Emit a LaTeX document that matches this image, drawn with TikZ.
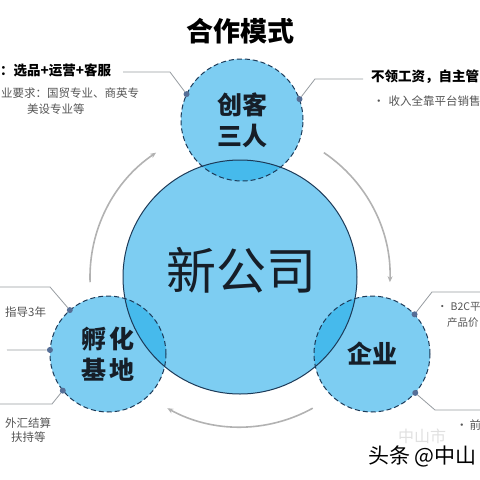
\documentclass[tikz,border=0pt]{standalone}
\usepackage{fontspec}
\setmainfont{Noto Sans CJK SC}
\usetikzlibrary{arrows.meta,positioning}
\definecolor{circfill}{RGB}{125,205,242}
\definecolor{overlapfill}{RGB}{70,186,236}
\definecolor{navyline}{RGB}{28,58,88}
\definecolor{dotblue}{RGB}{85,110,150}
\definecolor{leadgray}{RGB}{150,155,160}
\definecolor{arcgray}{RGB}{178,178,178}
\definecolor{textgray}{RGB}{85,85,85}
\definecolor{labeldark}{RGB}{22,30,40}

\begin{document}
\begin{tikzpicture}[x=1pt,y=1pt,
  hub/.style={circle, fill=circfill, minimum size=234pt, inner sep=0pt},
  party/.style={circle, fill=circfill, minimum size=118pt, inner sep=0pt, align=center, text=labeldark, font=\bfseries\fontsize{25}{31}\selectfont},
  rim/.style={draw=navyline, line width=1pt},
  dashrim/.style={draw=navyline, line width=1pt, dash pattern=on 5pt off 3pt},
  lead/.style={draw=leadgray, line width=0.8pt},
  pin/.style={circle, fill=dotblue, inner sep=0pt, minimum size=6pt},
  cyc/.style={-{Stealth[length=6pt,width=5pt]}, arcgray, line width=1.6pt},
  head/.style={font=\bfseries\fontsize{13.5}{17}\selectfont, inner sep=0pt, anchor=west},
  note/.style={font=\fontsize{11.5}{15}\selectfont, text=textgray, inner sep=0pt, anchor=west}
]
\useasboundingbox (0,0) rectangle (480,-480);
\clip (0,0) rectangle (480,-480);

\node[font=\bfseries\fontsize{27}{30}\selectfont] (title) at (240,-31) {合作模式};

% circles
\node[hub] (hub) at (240,-277) {};
\node[party, minimum size=122pt] (maker) at (242,-120) {创客\\三人};
\node[party, minimum size=116pt] (incub) at (108,-354) {孵\hspace{3pt}化\\基\hspace{3pt}地};
\node[party, minimum size=116pt] (firm) at (372,-354) {企业};

% overlaps
\begin{scope}
  \clip (hub.center) circle[radius=117];
  \fill[overlapfill] (maker.center) circle[radius=61];
  \fill[overlapfill] (incub.center) circle[radius=58];
  \fill[overlapfill] (firm.center) circle[radius=58];
\end{scope}
\draw[rim] (hub.center) circle[radius=117];
\draw[dashrim] (maker.center) circle[radius=61];
\draw[dashrim] (incub.center) circle[radius=58];
\draw[dashrim] (firm.center) circle[radius=58];

\node[font=\fontsize{50}{50}\selectfont, text=labeldark] (hubtext) at (241,-270) {新公司};

% cycle arrows
\draw[cyc] ([shift={(182:150)}]hub.center) arc[start angle=182, end angle=124, radius=150];
\draw[cyc] ([shift={(56:150)}]hub.center) arc[start angle=56, end angle=-2, radius=150];
\draw[cyc] ([shift={(-61:150)}]hub.center) arc[start angle=-61, end angle=-119, radius=150];

% leader lines
\coordinate (mkLbend) at (170,-72);
\coordinate (mkLend) at (123,-72);
\coordinate (mkRbend) at (315,-79);
\coordinate (mkRend) at (363,-79);
\coordinate (icAbend) at (50,-287);
\coordinate (icAend) at (-5,-287);
\coordinate (icBend) at (7,-350);
\coordinate (icCbend) at (52,-404);
\coordinate (icCend) at (-5,-404);
\coordinate (fmAbend) at (432,-292);
\coordinate (fmAend) at (485,-292);
\coordinate (fmBbend) at (435,-410);
\coordinate (fmBend) at (485,-410);

\node[pin] (mkL) at (maker.155) {};
\node[pin] (mkR) at (maker.20) {};
\node[pin] (icA) at (incub.131) {};
\node[pin] (icB) at (incub.176) {};
\node[pin] (icC) at (incub.219) {};
\node[pin] (fmA) at (firm.43) {};
\node[pin] (fmB) at (firm.318) {};

\draw[lead] (mkL) -- (mkLbend) -- (mkLend);
\draw[lead] (mkR) -- (mkRbend) -- (mkRend);
\draw[lead] (icA) -- (icAbend) -- (icAend);
\draw[lead] (icB) -- (icBend);
\draw[lead] (icC) -- (icCbend) -- (icCend);
\draw[lead] (fmA) -- (fmAbend) -- (fmAend);
\draw[lead] (fmB) -- (fmBbend) -- (fmBend);

% side texts
\node[head] (rolenote) at (0,-70) {：选品+运营+客服};
\node[note] (reqnote) at (1,-93) {业要求：国贸专业、商英专};
\node[note] (reqnote2) at (27,-109) {美设专业等};
\node[head] (paynote) at (371,-77) {不领工资，自主管};
\node[note] (incnote) at (373,-101) {•\hspace{4pt}收入全靠平台销售};
\node[note] (guidenote) at (5,-312) {指导3年};
\node[note] (fxnote) at (5,-423) {外汇结算};
\node[note] (policynote) at (11,-437) {扶持等};
\node[note, font=\fontsize{10.5}{13}\selectfont] (b2cnote) at (437,-307) {•\hspace{3pt}B2C平};
\node[note, font=\fontsize{10.5}{13}\selectfont] (prodnote) at (447,-323) {产品价};
\node[note] (prenote) at (456,-425) {•\hspace{2pt}前};

% watermark
\node[font=\fontsize{16}{16}\selectfont, text=black!12, inner sep=0pt, anchor=west] (wmfaint) at (398,-436) {中山市};
\node[font=\fontsize{21}{21}\selectfont, inner sep=0pt, anchor=west] (wmark) at (368,-456) {头条 @中山};
\end{tikzpicture}
\end{document}
